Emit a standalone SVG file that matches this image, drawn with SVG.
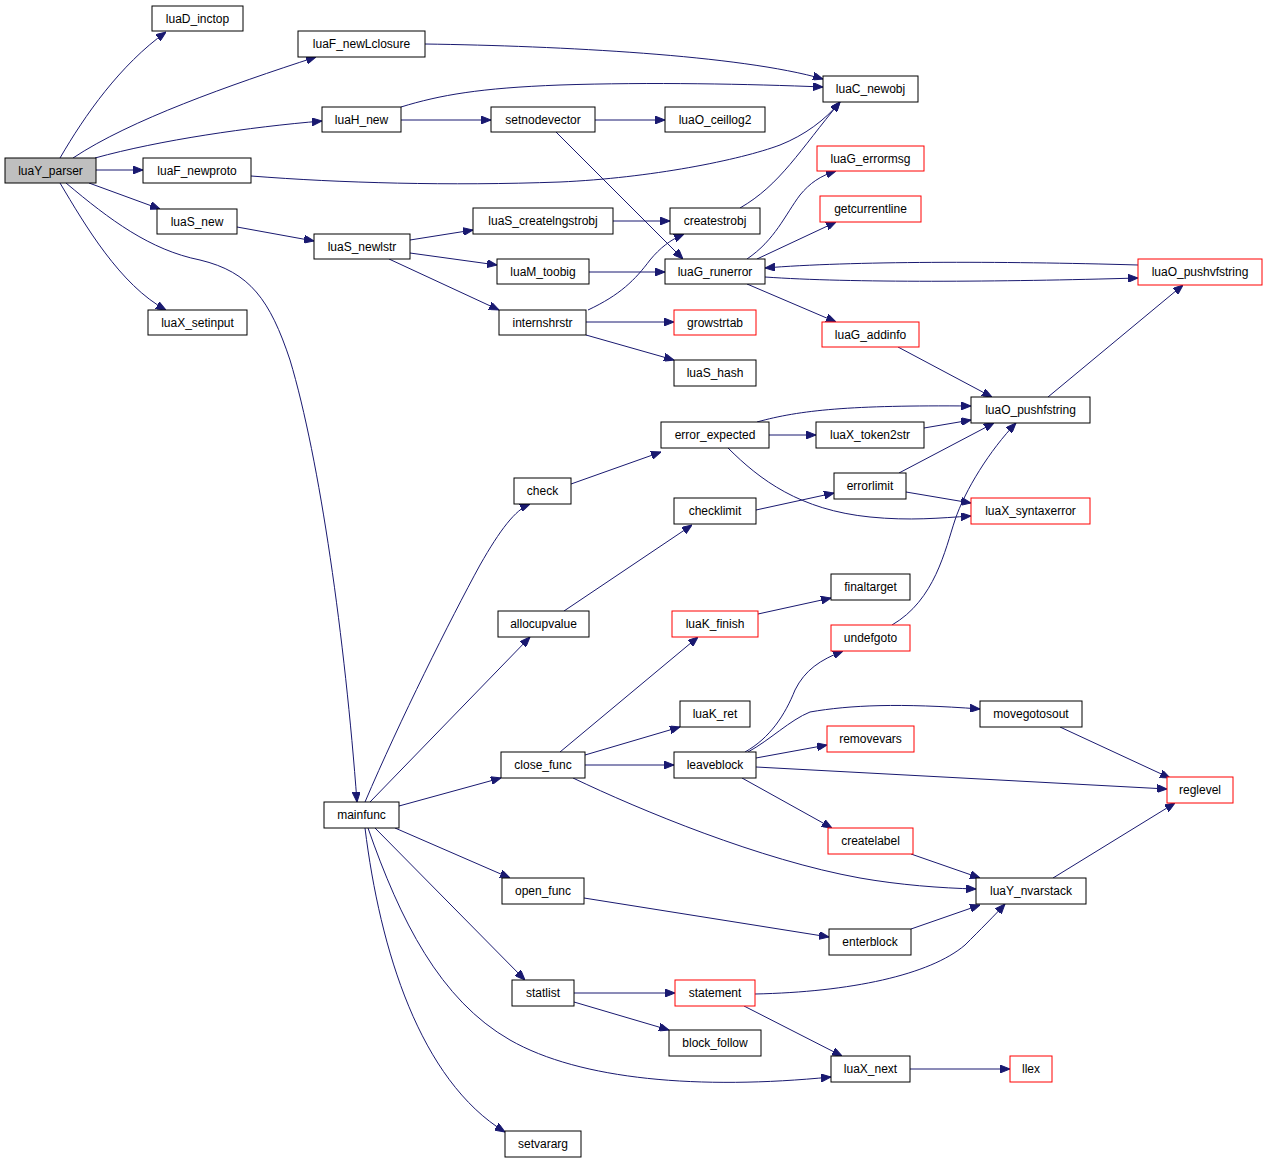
<svg xmlns="http://www.w3.org/2000/svg" width="1268" height="1164" viewBox="0 0 1268 1164">
<style>
.n rect{fill:#fff;stroke:#000;stroke-width:1}
.n.r rect{stroke:#ff0000}
.n.g rect{fill:#bfbfbf}
.n text{font-family:"Liberation Sans",Arial,sans-serif;font-size:12px;fill:#000;text-anchor:middle}
#edges path{fill:none;stroke:#191970;stroke-width:1;marker-end:url(#a)}
</style>
<defs>
<marker id="a" markerWidth="10" markerHeight="8" refX="10" refY="4" orient="auto" markerUnits="userSpaceOnUse"><path d="M0,0 L10,4 L0,8 z" fill="#191970" stroke="#191970"/></marker>
</defs>
<rect width="1268" height="1164" fill="#fff"/>
<g id="edges">
<path d="M60,158 C85,115 120,65 166,32"/>
<path d="M73,158 C130,120 230,85 316,57"/>
<path d="M95,158 C160,140 250,127 322,121"/>
<path d="M96,170 L143,170"/>
<path d="M89,183 L160,209"/>
<path d="M60,183 C85,225 120,285 166,310"/>
<path d="M66,183 C110,220 150,250 200,260 C250,272 270,300 290,360 C320,460 345,640 357,802"/>
<path d="M425,44 C560,46 740,55 823,79"/>
<path d="M401,107 C440,95 480,88 560,85 C650,82 750,84 823,87"/>
<path d="M401,120 L491,120"/>
<path d="M595,120 L665,120"/>
<path d="M556,132 L683,259"/>
<path d="M251,176 C340,183 450,186 560,182 C650,178 740,160 780,145 C805,135 825,120 840,102"/>
<path d="M237,227 L314,241"/>
<path d="M410,240 L473,230"/>
<path d="M410,253 L497,265"/>
<path d="M389,259 L499,310"/>
<path d="M613,221 L670,221"/>
<path d="M589,272 L665,272"/>
<path d="M588,310 C620,295 635,280 650,260 C660,248 670,240 684,234"/>
<path d="M586,322 L674,322"/>
<path d="M586,335 L674,360"/>
<path d="M740,208 C780,185 800,150 840,102"/>
<path d="M747,259 C775,240 785,215 800,195 C810,183 820,176 836,171"/>
<path d="M757,259 L836,222"/>
<path d="M765,277 C850,283 1000,282 1138,278"/>
<path d="M1138,265 C1000,261 850,261 765,268"/>
<path d="M747,284 L836,322"/>
<path d="M898,347 L992,397"/>
<path d="M1048,397 L1183,285"/>
<path d="M757,422 C800,410 850,405 971,406"/>
<path d="M769,435 L816,435"/>
<path d="M924,428 L971,420"/>
<path d="M728,448 C760,480 800,510 870,517 C910,521 940,518 971,516"/>
<path d="M899,473 L994,423"/>
<path d="M906,492 L971,503"/>
<path d="M756,510 L834,493"/>
<path d="M571,484 L661,452"/>
<path d="M564,611 L692,525"/>
<path d="M758,614 L831,598"/>
<path d="M892,625 C935,600 945,550 955,520 C965,490 990,450 1016,423"/>
<path d="M745,752 C770,738 785,715 795,690 C805,670 820,660 843,651"/>
<path d="M748,752 C770,740 790,720 810,712 C850,705 900,703 980,709"/>
<path d="M756,758 L827,745"/>
<path d="M756,767 L1167,789"/>
<path d="M742,778 L832,828"/>
<path d="M560,752 L698,637"/>
<path d="M585,755 L680,727"/>
<path d="M585,765 L674,765"/>
<path d="M573,778 C640,810 760,860 860,878 C900,885 940,888 976,889"/>
<path d="M1060,727 L1170,778"/>
<path d="M911,854 L980,878"/>
<path d="M1053,878 L1175,803"/>
<path d="M365,802 C400,720 450,620 480,565 C500,530 515,510 530,504"/>
<path d="M370,802 L530,637"/>
<path d="M399,806 L501,778"/>
<path d="M395,828 L510,878"/>
<path d="M375,828 L525,980"/>
<path d="M368,828 C400,920 440,1000 510,1040 C580,1080 700,1090 831,1077"/>
<path d="M365,828 C380,950 420,1080 505,1132"/>
<path d="M584,898 L829,937"/>
<path d="M911,929 L980,905"/>
<path d="M574,993 L675,993"/>
<path d="M574,1002 L669,1030"/>
<path d="M755,994 C850,992 930,975 965,945 C980,930 995,915 1005,904"/>
<path d="M744,1006 L842,1056"/>
<path d="M910,1069 L1010,1069"/>
</g>
<g id="luaY_parser" class="n g"><rect x="5" y="158" width="91" height="25"/><text x="50.5" y="175">luaY_parser</text></g>
<g id="luaD_inctop" class="n"><rect x="152" y="6" width="91" height="25"/><text x="197.5" y="23">luaD_inctop</text></g>
<g id="luaF_newLclosure" class="n"><rect x="298" y="31" width="127" height="26"/><text x="361.5" y="48">luaF_newLclosure</text></g>
<g id="luaH_new" class="n"><rect x="322" y="107" width="79" height="25"/><text x="361.5" y="124">luaH_new</text></g>
<g id="luaF_newproto" class="n"><rect x="143" y="158" width="108" height="25"/><text x="197" y="175">luaF_newproto</text></g>
<g id="luaS_new" class="n"><rect x="157" y="209" width="80" height="25"/><text x="197" y="226">luaS_new</text></g>
<g id="luaS_newlstr" class="n"><rect x="314" y="234" width="96" height="25"/><text x="362" y="251">luaS_newlstr</text></g>
<g id="luaX_setinput" class="n"><rect x="148" y="310" width="99" height="25"/><text x="197.5" y="327">luaX_setinput</text></g>
<g id="luaC_newobj" class="n"><rect x="823" y="76" width="95" height="26"/><text x="870.5" y="93">luaC_newobj</text></g>
<g id="setnodevector" class="n"><rect x="491" y="107" width="104" height="25"/><text x="543" y="124">setnodevector</text></g>
<g id="luaO_ceillog2" class="n"><rect x="665" y="107" width="100" height="25"/><text x="715" y="124">luaO_ceillog2</text></g>
<g id="luaG_errormsg" class="n r"><rect x="817" y="146" width="107" height="25"/><text x="870.5" y="163">luaG_errormsg</text></g>
<g id="getcurrentline" class="n r"><rect x="820" y="196" width="101" height="26"/><text x="870.5" y="213">getcurrentline</text></g>
<g id="luaS_createlngstrobj" class="n"><rect x="473" y="208" width="140" height="26"/><text x="543" y="225">luaS_createlngstrobj</text></g>
<g id="createstrobj" class="n"><rect x="670" y="208" width="90" height="26"/><text x="715" y="225">createstrobj</text></g>
<g id="luaM_toobig" class="n"><rect x="497" y="259" width="92" height="25"/><text x="543" y="276">luaM_toobig</text></g>
<g id="luaG_runerror" class="n"><rect x="665" y="259" width="100" height="25"/><text x="715" y="276">luaG_runerror</text></g>
<g id="internshrstr" class="n"><rect x="499" y="310" width="87" height="25"/><text x="542.5" y="327">internshrstr</text></g>
<g id="growstrtab" class="n r"><rect x="674" y="310" width="82" height="25"/><text x="715" y="327">growstrtab</text></g>
<g id="luaG_addinfo" class="n r"><rect x="822" y="322" width="97" height="25"/><text x="870.5" y="339">luaG_addinfo</text></g>
<g id="luaO_pushvfstring" class="n r"><rect x="1138" y="259" width="124" height="26"/><text x="1200" y="276">luaO_pushvfstring</text></g>
<g id="luaS_hash" class="n"><rect x="674" y="360" width="82" height="26"/><text x="715" y="377">luaS_hash</text></g>
<g id="luaO_pushfstring" class="n"><rect x="971" y="397" width="119" height="26"/><text x="1030.5" y="414">luaO_pushfstring</text></g>
<g id="error_expected" class="n"><rect x="661" y="422" width="108" height="26"/><text x="715" y="439">error_expected</text></g>
<g id="luaX_token2str" class="n"><rect x="816" y="422" width="108" height="26"/><text x="870" y="439">luaX_token2str</text></g>
<g id="errorlimit" class="n"><rect x="834" y="473" width="72" height="26"/><text x="870" y="490">errorlimit</text></g>
<g id="check" class="n"><rect x="514" y="478" width="57" height="26"/><text x="542.5" y="495">check</text></g>
<g id="checklimit" class="n"><rect x="674" y="498" width="82" height="26"/><text x="715" y="515">checklimit</text></g>
<g id="luaX_syntaxerror" class="n r"><rect x="971" y="498" width="119" height="26"/><text x="1030.5" y="515">luaX_syntaxerror</text></g>
<g id="finaltarget" class="n"><rect x="831" y="574" width="79" height="26"/><text x="870.5" y="591">finaltarget</text></g>
<g id="allocupvalue" class="n"><rect x="498" y="611" width="91" height="26"/><text x="543.5" y="628">allocupvalue</text></g>
<g id="luaK_finish" class="n r"><rect x="672" y="611" width="86" height="26"/><text x="715" y="628">luaK_finish</text></g>
<g id="undefgoto" class="n r"><rect x="831" y="625" width="79" height="26"/><text x="870.5" y="642">undefgoto</text></g>
<g id="luaK_ret" class="n"><rect x="680" y="701" width="70" height="26"/><text x="715" y="718">luaK_ret</text></g>
<g id="movegotosout" class="n"><rect x="980" y="701" width="102" height="26"/><text x="1031" y="718">movegotosout</text></g>
<g id="removevars" class="n r"><rect x="827" y="726" width="87" height="26"/><text x="870.5" y="743">removevars</text></g>
<g id="close_func" class="n"><rect x="501" y="752" width="84" height="26"/><text x="543" y="769">close_func</text></g>
<g id="leaveblock" class="n"><rect x="674" y="752" width="82" height="26"/><text x="715" y="769">leaveblock</text></g>
<g id="reglevel" class="n r"><rect x="1167" y="777" width="66" height="26"/><text x="1200" y="794">reglevel</text></g>
<g id="mainfunc" class="n"><rect x="324" y="802" width="75" height="26"/><text x="361.5" y="819">mainfunc</text></g>
<g id="createlabel" class="n r"><rect x="828" y="828" width="85" height="26"/><text x="870.5" y="845">createlabel</text></g>
<g id="luaY_nvarstack" class="n"><rect x="976" y="878" width="110" height="26"/><text x="1031" y="895">luaY_nvarstack</text></g>
<g id="open_func" class="n"><rect x="502" y="878" width="82" height="26"/><text x="543" y="895">open_func</text></g>
<g id="enterblock" class="n"><rect x="829" y="929" width="82" height="26"/><text x="870" y="946">enterblock</text></g>
<g id="statlist" class="n"><rect x="512" y="980" width="62" height="26"/><text x="543" y="997">statlist</text></g>
<g id="statement" class="n r"><rect x="675" y="980" width="80" height="26"/><text x="715" y="997">statement</text></g>
<g id="block_follow" class="n"><rect x="669" y="1030" width="92" height="26"/><text x="715" y="1047">block_follow</text></g>
<g id="luaX_next" class="n"><rect x="831" y="1056" width="79" height="26"/><text x="870.5" y="1073">luaX_next</text></g>
<g id="llex" class="n r"><rect x="1010" y="1056" width="42" height="26"/><text x="1031" y="1073">llex</text></g>
<g id="setvararg" class="n"><rect x="505" y="1131" width="76" height="26"/><text x="543" y="1148">setvararg</text></g>
</svg>
